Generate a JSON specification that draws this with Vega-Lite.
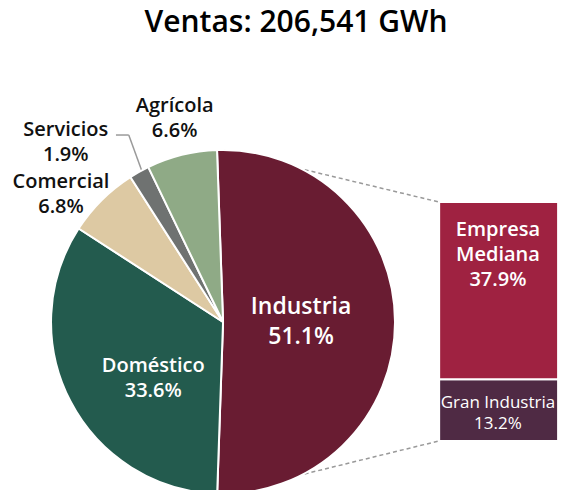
{
  "$schema": "https://vega.github.io/schema/vega-lite/v6.json",
  "width": 562,
  "height": 430,
  "autosize": {"type": "none"},
  "padding": {"top": 60, "left": 0, "right": 0, "bottom": 0},
  "background": "white",
  "config": {"view": {"stroke": null}},
  "title": {"text": "Ventas: 206,541 GWh", "font": "Open Sans", "fontSize": 30, "fontWeight": 600, "color": "#000000", "anchor": "middle", "dx": 15, "offset": 22},
  "datasets": {
    "pie": [
      {"cat": "Industria", "pct": 51.1, "ord": 1},
      {"cat": "Doméstico", "pct": 33.6, "ord": 2},
      {"cat": "Comercial", "pct": 6.8, "ord": 3},
      {"cat": "Servicios", "pct": 1.9, "ord": 4},
      {"cat": "Agrícola", "pct": 6.6, "ord": 5}
    ],
    "bar": [
      {"cat": "Gran Industria", "pct": 13.2, "ord": 1},
      {"cat": "Empresa Mediana", "pct": 37.9, "ord": 2}
    ]
  },
  "layer": [
    {
      "data": {"values": [{}]},
      "mark": {"type": "rule", "color": "#999999", "strokeWidth": 1.5, "strokeDash": [4, 3]},
      "encoding": {
        "x": {"datum": 39.5, "type": "quantitative", "scale": {"domain": [0, 100], "nice": false, "zero": false}, "axis": null},
        "y": {"datum": 62.24, "type": "quantitative", "scale": {"domain": [-10.5, 81.5], "nice": false, "zero": false}, "axis": null},
        "x2": {"datum": 78.65},
        "y2": {"datum": 51.1}
      }
    },
    {
      "data": {"values": [{}]},
      "mark": {"type": "rule", "color": "#999999", "strokeWidth": 1.5, "strokeDash": [4, 3]},
      "encoding": {
        "x": {"datum": 39.5, "type": "quantitative", "scale": {"domain": [0, 100], "nice": false, "zero": false}, "axis": null},
        "y": {"datum": -11.35, "type": "quantitative", "scale": {"domain": [-10.5, 81.5], "nice": false, "zero": false}, "axis": null},
        "x2": {"datum": 78.65},
        "y2": {"datum": 0}
      }
    },
    {
      "data": {"values": [{}]},
      "mark": {"type": "rule", "color": "#9a9a9a", "strokeWidth": 1.5},
      "encoding": {
        "x": {"datum": 20.1, "type": "quantitative", "scale": {"domain": [0, 100], "nice": false, "zero": false}, "axis": null},
        "y": {"datum": 65.45, "type": "quantitative", "scale": {"domain": [-10.5, 81.5], "nice": false, "zero": false}, "axis": null},
        "x2": {"datum": 22.42},
        "y2": {"datum": 65.45}
      }
    },
    {
      "data": {"values": [{}]},
      "mark": {"type": "rule", "color": "#9a9a9a", "strokeWidth": 1.5},
      "encoding": {
        "x": {"datum": 22.42, "type": "quantitative", "scale": {"domain": [0, 100], "nice": false, "zero": false}, "axis": null},
        "y": {"datum": 65.45, "type": "quantitative", "scale": {"domain": [-10.5, 81.5], "nice": false, "zero": false}, "axis": null},
        "x2": {"datum": 24.73},
        "y2": {"datum": 57.97}
      }
    },
    {
      "data": {"name": "pie"},
      "encoding": {
        "theta": {"field": "pct", "type": "quantitative", "stack": true, "scale": {"range": [-0.035, 6.2482]}},
        "order": {"field": "ord", "type": "quantitative"},
        "x": {"datum": 39.5, "type": "quantitative", "scale": {"domain": [0, 100], "nice": false, "zero": false}, "axis": null},
        "y": {"datum": 25.45, "type": "quantitative", "scale": {"domain": [-10.5, 81.5], "nice": false, "zero": false}, "axis": null}
      },
      "layer": [
        {
          "mark": {"type": "arc", "outerRadius": 172, "stroke": "white", "strokeWidth": 2},
          "encoding": {
            "color": {"field": "cat", "type": "nominal", "legend": null,
              "scale": {"domain": ["Industria", "Doméstico", "Comercial", "Servicios", "Agrícola", "Empresa Mediana", "Gran Industria"],
                        "range": ["#691C32", "#235B4E", "#DDC9A3", "#6F7271", "#8FAA86", "#9F2241", "#4F2A44"]}}
          }
        },
        {
          "mark": {"type": "text", "radius": 78, "dy": -15, "font": "Open Sans", "fontSize": 23, "fontWeight": 600, "color": "white", "lineBreak": "\n", "lineHeight": 30, "align": "center", "baseline": "middle"},
          "encoding": {"text": {"condition": {"test": "datum.cat === 'Industria'", "value": "Industria\n51.1%"}, "value": ""}}
        },
        {
          "mark": {"type": "text", "radius": 90, "dx": 10, "dy": 2.5, "font": "Open Sans", "fontSize": 20, "fontWeight": 600, "color": "white", "lineBreak": "\n", "lineHeight": 25, "align": "center", "baseline": "middle"},
          "encoding": {"text": {"condition": {"test": "datum.cat === 'Doméstico'", "value": "Doméstico\n33.6%"}, "value": ""}}
        },
        {
          "mark": {"type": "text", "radius": 200, "dx": -21, "dy": 1.5, "font": "Open Sans", "fontSize": 20, "fontWeight": 600, "color": "#111111", "lineBreak": "\n", "lineHeight": 25, "align": "center", "baseline": "middle"},
          "encoding": {"text": {"condition": {"test": "datum.cat === 'Comercial'", "value": "Comercial\n6.8%"}, "value": ""}}
        },
        {
          "mark": {"type": "text", "radius": 220, "dx": -50, "dy": 0, "font": "Open Sans", "fontSize": 20, "fontWeight": 600, "color": "#111111", "lineBreak": "\n", "lineHeight": 25, "align": "center", "baseline": "middle"},
          "encoding": {"text": {"condition": {"test": "datum.cat === 'Servicios'", "value": "Servicios\n1.9%"}, "value": ""}}
        },
        {
          "mark": {"type": "text", "radius": 210, "dx": 2, "dy": -12.5, "font": "Open Sans", "fontSize": 20, "fontWeight": 600, "color": "#111111", "lineBreak": "\n", "lineHeight": 25, "align": "center", "baseline": "middle"},
          "encoding": {"text": {"condition": {"test": "datum.cat === 'Agrícola'", "value": "Agrícola\n6.6%"}, "value": ""}}
        }
      ]
    },
    {
      "data": {"name": "bar"},
      "mark": {"type": "bar", "orient": "vertical", "stroke": "white", "strokeWidth": 2},
      "encoding": {
        "x": {"datum": 78.65, "type": "quantitative", "scale": {"domain": [0, 100], "nice": false, "zero": false}, "axis": null},
        "x2": {"datum": 100.2},
        "y": {"field": "pct", "type": "quantitative", "stack": "zero", "scale": {"domain": [-10.5, 81.5], "nice": false, "zero": false}, "axis": null},
        "order": {"field": "ord", "type": "quantitative"},
        "color": {"field": "cat", "type": "nominal", "legend": null,
          "scale": {"domain": ["Industria", "Doméstico", "Comercial", "Servicios", "Agrícola", "Empresa Mediana", "Gran Industria"],
                    "range": ["#691C32", "#235B4E", "#DDC9A3", "#6F7271", "#8FAA86", "#9F2241", "#4F2A44"]}}
      }
    },
    {
      "data": {"name": "bar"},
      "mark": {"type": "text", "font": "Open Sans", "fontSize": 20, "fontWeight": 600, "color": "white", "lineBreak": "\n", "lineHeight": 25, "align": "center", "baseline": "middle"},
      "encoding": {
        "x": {"datum": 89.3, "type": "quantitative", "scale": {"domain": [0, 100], "nice": false, "zero": false}, "axis": null},
        "y": {"datum": 45.13, "type": "quantitative", "scale": {"domain": [-10.5, 81.5], "nice": false, "zero": false}, "axis": null},
        "text": {"condition": {"test": "datum.cat === 'Empresa Mediana'", "value": "Empresa\nMediana\n37.9%"}, "value": ""}
      }
    },
    {
      "data": {"name": "bar"},
      "mark": {"type": "text", "font": "Open Sans", "fontSize": 17, "fontWeight": 500, "color": "white", "lineBreak": "\n", "lineHeight": 21, "align": "center", "baseline": "middle"},
      "encoding": {
        "x": {"datum": 89.3, "type": "quantitative", "scale": {"domain": [0, 100], "nice": false, "zero": false}, "axis": null},
        "y": {"datum": 8.12, "type": "quantitative", "scale": {"domain": [-10.5, 81.5], "nice": false, "zero": false}, "axis": null},
        "text": {"condition": {"test": "datum.cat === 'Gran Industria'", "value": "Gran Industria\n13.2%"}, "value": ""}
      }
    }
  ]
}
